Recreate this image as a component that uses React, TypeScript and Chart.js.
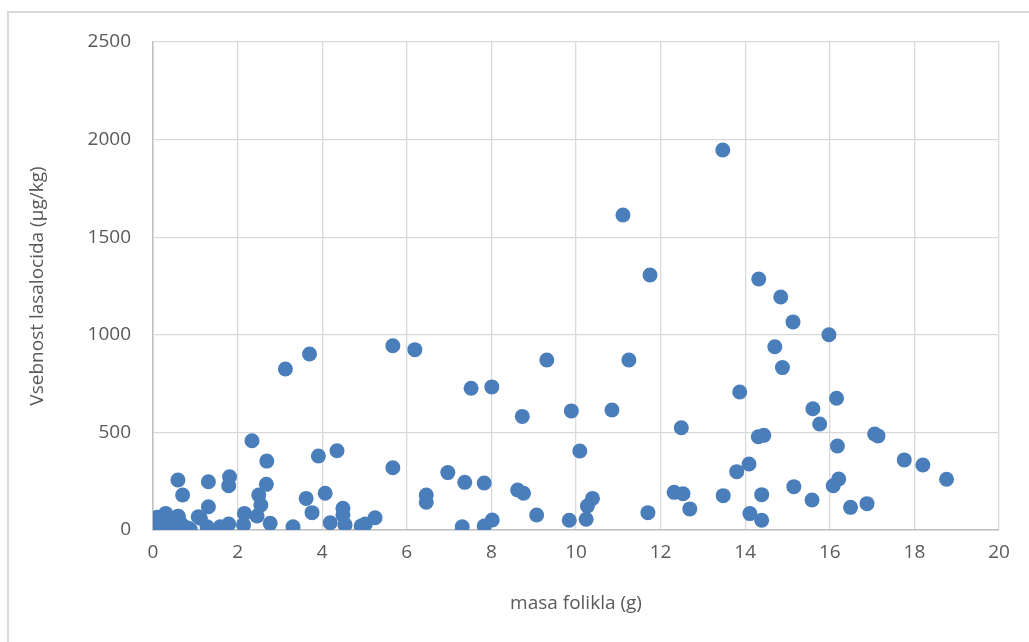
import React, { useEffect, useRef } from "react";
import { Chart, registerables } from "chart.js";

Chart.register(...registerables);

const xLabel = "masa folikla (g)";
const yLabel = "Vsebnost lasalocida (µg/kg)";

const xValues: number[] = [
  0.05, 0.08, 0.1, 0.12, 0.18, 0.2, 0.25, 0.3, 0.32, 0.38, 0.42, 0.45, 0.5, 0.55, 0.6, 0.65, 0.75, 0.88, 0.57,
  0.59, 0.7, 0.84, 1.07, 1.12, 1.28, 1.31, 1.31, 1.59, 1.79, 1.81, 1.79, 2.14, 2.16, 2.34, 2.46, 2.5, 2.55, 2.68, 2.69, 2.77,
  3.13, 3.7, 3.31, 3.62, 3.76, 3.91, 4.07, 4.19, 4.35, 4.49, 4.49, 4.54, 4.92, 5.02, 5.25, 5.67, 5.67, 6.19, 6.46, 6.46,
  6.97, 7.31, 7.37, 7.52, 7.83, 7.83, 8.01, 8.02, 8.62, 8.76, 8.73, 9.07, 9.31, 9.84, 9.89, 10.09, 10.24, 10.27, 10.39, 10.85,
  11.11, 11.25, 11.7, 11.75, 12.32, 12.49, 12.53, 12.69, 13.47, 13.48, 13.8, 13.87, 14.09, 14.11, 14.31, 14.32, 14.39, 14.39, 14.44, 14.7,
  14.84, 14.88, 15.13, 15.15, 15.58, 15.6, 15.76, 15.98, 16.08, 16.16, 16.18, 16.21, 16.49, 16.88, 17.06, 17.14, 17.76, 18.2, 18.76,
];

const yValues: number[] = [
  5, 40, 65, 15, 30, 0, 50, 85, 10, 30, 60, 5, 40, 20, 70, 35, 15, 2, 68,
  256, 179, 9, 68, 60, 17, 247, 119, 17, 31, 273, 227, 26, 85, 457, 72, 179, 128, 234, 353, 34,
  825, 902, 17, 162, 89, 379, 188, 37, 406, 111, 77, 26, 20, 31, 63, 944, 319, 924, 179, 142,
  294, 17, 244, 726, 241, 20, 733, 51, 205, 188, 582, 77, 871, 50, 610, 405, 55, 123, 162, 615,
  1614, 871, 89, 1306, 193, 524, 186, 108, 1947, 176, 299, 707, 338, 84, 478, 1286, 181, 50, 485, 939,
  1194, 832, 1066, 222, 154, 621, 543, 1000, 227, 675, 430, 261, 116, 135, 492, 482, 359, 333, 260,
];

const xTicks = { min: 0, max: 20, step: 2 };
const yTicks = { min: 0, max: 2500, step: 500 };

export default function App() {
  const canvasRef = useRef<HTMLCanvasElement | null>(null);

  useEffect(() => {
    const canvas = canvasRef.current;
    if (!canvas) return;
    const points = xValues.map((x, i) => ({ x, y: yValues[i] }));
    const font = { family: "'Open Sans', sans-serif", size: 19 };
    const chart = new Chart(canvas, {
      type: "scatter",
      data: {
        datasets: [
          {
            data: points,
            backgroundColor: "#4a7ebb",
            borderColor: "#4a7ebb",
            borderWidth: 0,
            pointRadius: 7.5,
          },
        ],
      },
      options: {
        responsive: false,
        animation: false,
        devicePixelRatio: 1,
        layout: { padding: { top: 42, right: 30, left: 0, bottom: 0 } },
        plugins: { legend: { display: false }, tooltip: { enabled: false } },
        scales: {
          x: {
            type: "linear",
            min: xTicks.min,
            max: xTicks.max,
            afterFit: (s: any) => {
              s.height = 112;
            },
            ticks: {
              stepSize: xTicks.step,
              color: "#595959",
              font,
              padding: 11,
              callback: (v: any) => String(v),
            },
            grid: { color: "#d9d9d9", lineWidth: 1.3, drawTicks: false },
            border: { color: "#bfbfbf", width: 1.5 },
            title: {
              display: true,
              text: xLabel,
              color: "#595959",
              font,
              padding: { top: 0, bottom: 27 },
            },
          },
          y: {
            type: "linear",
            min: yTicks.min,
            max: yTicks.max,
            afterFit: (s: any) => {
              s.width = 153;
            },
            ticks: {
              stepSize: yTicks.step,
              color: "#595959",
              font,
              padding: 22,
              callback: (v: any) => String(v),
            },
            grid: { color: "#d9d9d9", lineWidth: 1.3, drawTicks: false },
            border: { color: "#bfbfbf", width: 1.5 },
            title: {
              display: true,
              text: yLabel,
              color: "#595959",
              font,
              padding: { top: 26, bottom: 0 },
            },
          },
        },
      },
    });
    return () => chart.destroy();
  }, []);

  return (
    <div style={{ position: "fixed", left: 0, top: 0, width: 1029, height: 642, background: "#fff" }}>
      <div
        style={{
          position: "absolute",
          left: 7,
          top: 11,
          width: 1100,
          height: 700,
          borderLeft: "2px solid #d9d9d9",
          borderTop: "2px solid #d9d9d9",
        }}
      />
      <canvas
        ref={canvasRef}
        width={1029}
        height={642}
        style={{ position: "absolute", left: 0, top: 0, width: 1029, height: 642 }}
      />
    </div>
  );
}
